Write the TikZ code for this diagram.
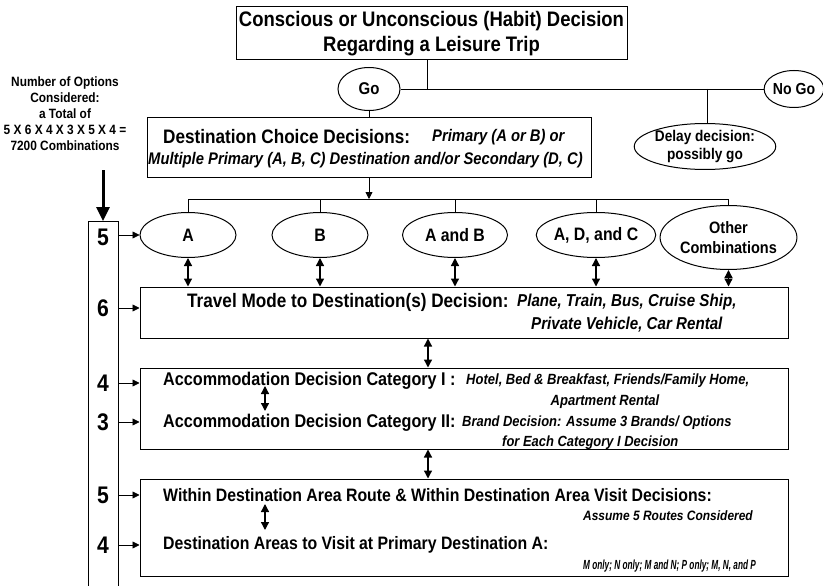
\documentclass[tikz,border=0pt]{standalone}
\usepackage{fontspec}
\setmainfont{Liberation Sans}[FakeStretch=0.88]
\usetikzlibrary{shapes.geometric,arrows.meta}

% bold and bold-italic at a given size (pt)
\newcommand\bsz[1]{\fontsize{#1}{#1}\selectfont\bfseries}
\newcommand\isz[1]{\fontsize{#1}{#1}\selectfont\bfseries\itshape}

\begin{document}
\begin{tikzpicture}[x=1pt,y=-1pt,
  box/.style={draw, line width=1pt, inner sep=0pt, rectangle},
  oval/.style={draw, ellipse, line width=1pt, inner sep=0pt, align=center},
  lbl/.style={inner sep=0pt, anchor=west},
  link/.style={line width=0.8pt},
  dbl/.style={line width=1.3pt, {Triangle[length=8pt,width=8pt]}-{Triangle[length=8pt,width=8pt]}},
  feed/.style={line width=0.8pt, -{Triangle[length=7pt,width=7pt]}},
  num/.style={inner sep=0pt, font=\bsz{24}}
]
\useasboundingbox (0,0) rectangle (823,586);

% ---- trip decision and first branch ----
\node[box, minimum width=391pt, minimum height=53pt, align=center,
      font=\fontsize{21}{25}\selectfont\bfseries] (top) at (431.5,33.5)
  {Conscious or Unconscious (Habit) Decision\\Regarding a Leisure Trip};

\node[oval, minimum width=62pt, minimum height=43pt, font=\bsz{17}] (go) at (369,89) {Go};
\node[oval, minimum width=56pt, minimum height=37pt, font=\bsz{16}] (nogo) at (794,89) {No Go};
\node[oval, minimum width=130pt, minimum height=37pt,
      font=\fontsize{15.5}{18}\selectfont\bfseries] (delay) at (705,146.5)
  {Delay decision:\\possibly go};

\coordinate (j1) at (427,89);
\coordinate (j2) at (707,89);
\draw[link] (go.east) -- (nogo.west);
\draw[link] (top.south -| j1) -- (j1);
\draw[link] (j2) -- (delay.north -| j2);

% ---- destination choice ----
\node[box, minimum width=444pt, minimum height=59pt] (dest) at (369,147.5) {};
\node[lbl, font=\bsz{19.5}] (destT) at (163,137) {Destination Choice Decisions:};
\node[lbl, font=\isz{16.8}] (destP) at (432,137) {Primary (A or B) or};
\node[lbl, font=\isz{16.8}] (destM) at (148,160)
  {Multiple Primary (A, B, C) Destination and/or Secondary (D, C)};
\draw[link] (go.south) -- (go.south |- dest.north);

\node[oval, minimum width=96pt,  minimum height=45pt, font=\bsz{18}] (A)   at (188,235) {A};
\node[oval, minimum width=96pt,  minimum height=45pt, font=\bsz{18}] (B)   at (320,235) {B};
\node[oval, minimum width=105pt, minimum height=45pt, font=\bsz{18}] (AB)  at (455,235) {A and B};
\node[oval, minimum width=103pt, minimum height=45pt, font=\bsz{18}] (ADC) at (596,235) {A, D, and C};
\node[oval, minimum width=119pt, minimum height=64pt,
      font=\fontsize{16.5}{20}\selectfont\bfseries] (other) at (728.5,237.5)
  {Other\\Combinations};

\coordinate (bus) at (0,199);
\draw[link] (A.north |- bus) -- (other.north |- bus);
\foreach \n in {A,B,AB,ADC,other} \draw[link] (\n.north |- bus) -- (\n.north);
\draw[feed] (dest.south -| go.south) -- (go.south |- bus);

% ---- travel mode ----
\node[box, minimum width=648pt, minimum height=51pt] (travel) at (464,312.5) {};
\node[lbl, font=\bsz{19.5}] (travT) at (187,302) {Travel Mode to Destination(s) Decision:};
\node[lbl, font=\isz{17.2}] (travP) at (517,302) {Plane, Train, Bus, Cruise Ship,};
\node[lbl, font=\isz{17.2}] (travQ) at (531,325) {Private Vehicle, Car Rental};
\foreach \n in {A,B,AB,ADC,other} \draw[dbl] (\n.south) -- (\n.south |- travel.north);

% ---- accommodation ----
\node[box, minimum width=648pt, minimum height=81pt] (accom) at (464,408.5) {};
\node[lbl, font=\bsz{18.4}] (accT1) at (163,381) {Accommodation Decision Category I :};
\node[lbl, font=\isz{14.8}] (accP1) at (466,381) {Hotel, Bed \& Breakfast, Friends/Family Home,};
\node[font=\isz{14.8}, inner sep=0pt] (accP2) at (605,402) {Apartment Rental};
\node[lbl, font=\bsz{18.4}] (accT2) at (163,423) {Accommodation Decision Category II:};
\node[lbl, font=\isz{14.7}] (accQ1) at (462,423) {Brand Decision: Assume 3 Brands/ Options};
\node[lbl, font=\isz{14.7}] (accQ2) at (502,443) {for Each Category I Decision};

\coordinate (mid) at (428,0);
\draw[dbl] (travel.south -| mid) -- (accom.north -| mid);
\coordinate (a1) at (265,386);
\coordinate (a2) at (265,411);
\draw[dbl] (a1) -- (a2);

% ---- within destination ----
\node[box, minimum width=648pt, minimum height=97pt] (within) at (464,527.5) {};
\node[lbl, font=\bsz{18}] (witT1) at (163,495)
  {Within Destination Area Route \& Within Destination Area Visit Decisions:};
\node[lbl, font=\isz{13.6}] (witP1) at (583,516) {Assume 5 Routes Considered};
\node[lbl, font=\bsz{18}] (witT2) at (163,545)
  {Destination Areas to Visit at Primary Destination A:};
\node[lbl, font=\isz{13.2}] (witP2) at (583,566)
  {\scalebox{0.71}[1]{M only; N only; M and N; P only; M, N, and P}};

\draw[dbl] (accom.south -| mid) -- (within.north -| mid);
\coordinate (b1) at (265,504);
\coordinate (b2) at (265,530);
\draw[dbl] (b1) -- (b2);

% ---- option counts ----
\node[align=center, inner sep=0pt, font=\fontsize{13.5}{16}\selectfont\bfseries] (count) at (65,114)
  {Number of Options\\Considered:\\a Total of\\5 X 6 X 4 X 3 X 5 X 4 =\\7200 Combinations};

\node[draw, line width=1pt, minimum width=30pt, minimum height=375pt, anchor=north,
      inner sep=0pt] (col) at (103,221) {};
\coordinate (thk) at (103,170);
\draw[line width=3pt, -{Triangle[length=14pt,width=13pt]}] (thk) -- (col.north);

\node[num] (n1) at (103,237) {5};
\node[num] (n2) at (103,308) {6};
\node[num] (n3) at (103,383) {4};
\node[num] (n4) at (103,422) {3};
\node[num] (n5) at (103,495) {5};
\node[num] (n6) at (103,545) {4};

\draw[feed] (col.east |- A.west) -- (A.west);
\draw[feed] (col.east |- n2) -- (travel.west |- n2);
\draw[feed] (col.east |- n3) -- (accom.west |- n3);
\draw[feed] (col.east |- n4) -- (accom.west |- n4);
\draw[feed] (col.east |- n5) -- (within.west |- n5);
\draw[feed] (col.east |- n6) -- (within.west |- n6);
\end{tikzpicture}
\end{document}
